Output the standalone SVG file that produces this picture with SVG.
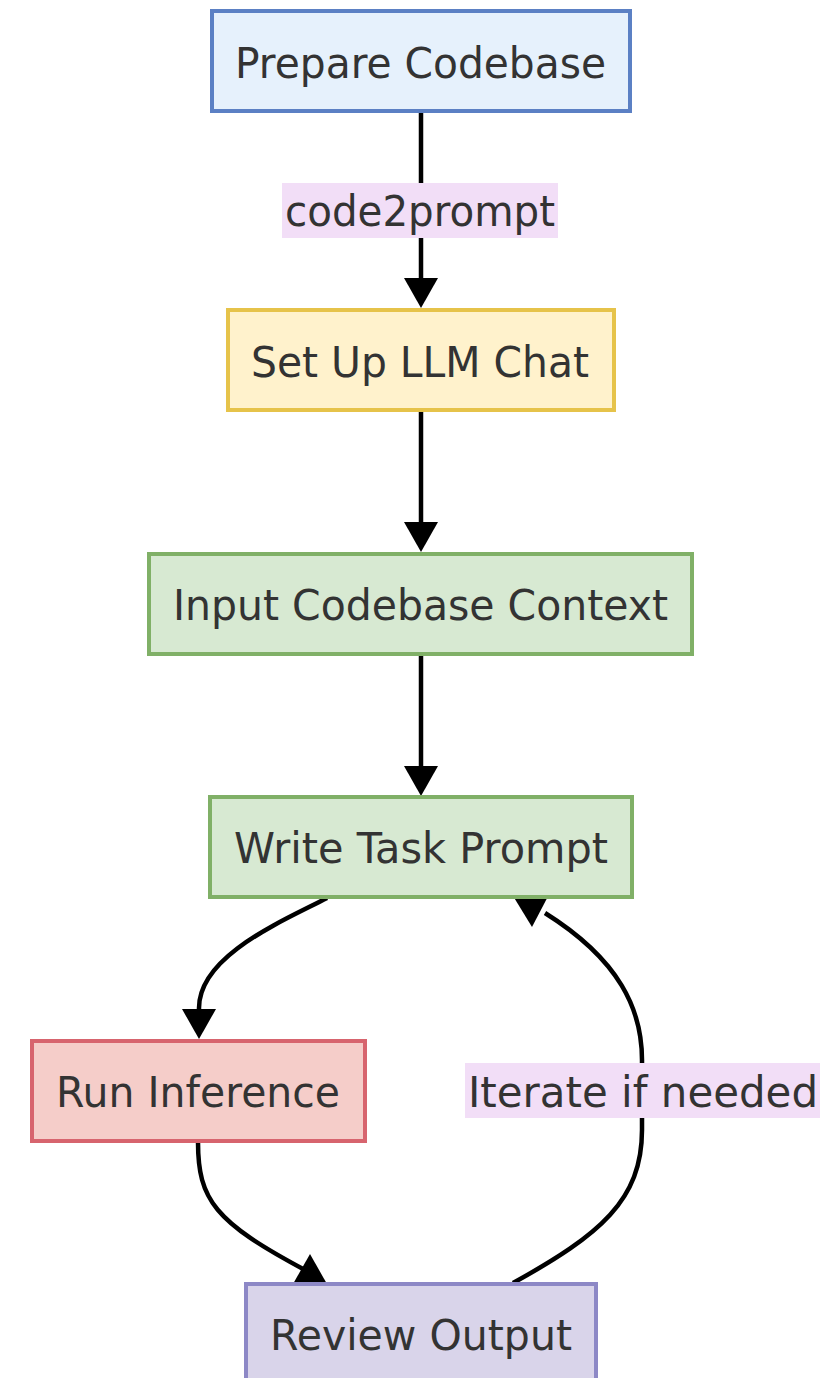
<svg xmlns="http://www.w3.org/2000/svg" xmlns:xlink="http://www.w3.org/1999/xlink" width="820" height="1378" viewBox="0 0 820 1378">
<style>
.node rect{stroke-width:4}
.t{font-family:"DejaVu Sans","Liberation Sans",sans-serif;font-size:42px;fill:#333;text-anchor:middle}
.edge{fill:none;stroke:#000;stroke-width:4.5}
.lbl{fill:#f2def7}
.blue{fill:#e6f1fc;stroke:#5b80c4}
.yellow{fill:#fff2cc;stroke:#e6c34a}
.green{fill:#d7e9d2;stroke:#80b067}
.red{fill:#f5cdc9;stroke:#d7646e}
.purple{fill:#d9d4ea;stroke:#8d88c6}
</style>
<defs>
<path id="ah" d="M-17,-30 L17,-30 L0,0 Z" fill="#000"/>
</defs>
<rect width="820" height="1378" fill="#fff"/>
<g id="connectors">
<path class="edge" d="M421,113 L421,282"/>
<use xlink:href="#ah" transform="translate(421,308)"/>
<rect class="lbl" x="282" y="183" width="276" height="55"/>
<text class="t" x="420" y="226" textLength="270" lengthAdjust="spacingAndGlyphs">code2prompt</text>
<path class="edge" d="M421,412 L421,526"/>
<use xlink:href="#ah" transform="translate(421,552)"/>
<path class="edge" d="M421,655 L421,770"/>
<use xlink:href="#ah" transform="translate(421,796)"/>
<path class="edge" d="M327,898 C285,920 199,955 199,1008 L199,1012"/>
<use xlink:href="#ah" transform="translate(199,1039)"/>
<path class="edge" d="M198,1142 C198,1200 215,1222 305,1270"/>
<use xlink:href="#ah" transform="translate(310,1254) rotate(180)"/>
<path class="edge" d="M513,1283 C600,1235 642,1200 642,1130 L642,1060 C642,1010 620,960 545,913"/>
<use xlink:href="#ah" transform="translate(532,927) rotate(-2)"/>
<rect class="lbl" x="465" y="1063" width="357" height="55"/>
<text class="t" x="643" y="1107" textLength="350" lengthAdjust="spacingAndGlyphs">Iterate if needed</text>
</g>
<g id="prepare" class="node">
<rect class="blue" x="212" y="11" width="418" height="100"/>
<text class="t" x="420.5" y="78" textLength="371" lengthAdjust="spacingAndGlyphs">Prepare Codebase</text>
</g>
<g id="setup" class="node">
<rect class="yellow" x="228" y="310" width="386" height="100"/>
<text class="t" x="420" y="377" textLength="338" lengthAdjust="spacingAndGlyphs">Set Up LLM Chat</text>
</g>
<g id="input" class="node">
<rect class="green" x="149" y="554" width="543" height="100"/>
<text class="t" x="420.5" y="620" textLength="495" lengthAdjust="spacingAndGlyphs">Input Codebase Context</text>
</g>
<g id="write" class="node">
<rect class="green" x="210" y="797" width="422" height="100"/>
<text class="t" x="421" y="863" textLength="374" lengthAdjust="spacingAndGlyphs">Write Task Prompt</text>
</g>
<g id="run" class="node">
<rect class="red" x="32" y="1041" width="333" height="100"/>
<text class="t" x="198" y="1107" textLength="284" lengthAdjust="spacingAndGlyphs">Run Inference</text>
</g>
<g id="review" class="node">
<rect class="purple" x="246" y="1284" width="350" height="100"/>
<text class="t" x="421" y="1350" textLength="302" lengthAdjust="spacingAndGlyphs">Review Output</text>
</g>
</svg>
